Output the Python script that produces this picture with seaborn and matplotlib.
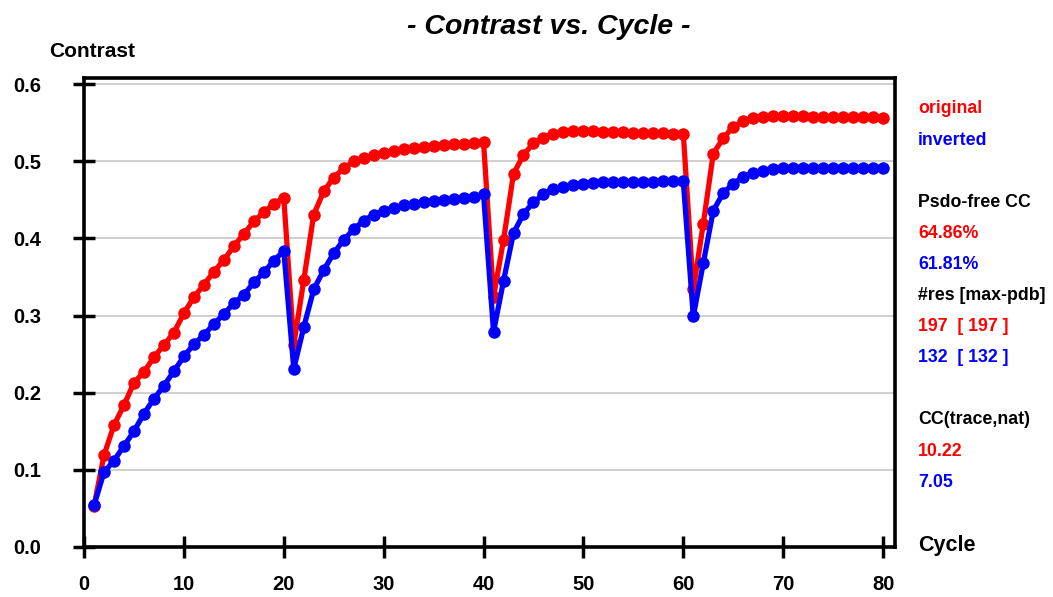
import numpy as np
import pandas as pd
import matplotlib
matplotlib.use("Agg")
import matplotlib.pyplot as plt
import seaborn as sns

cycles = list(range(1, 81))
original = [0.053, 0.119, 0.158, 0.184, 0.213, 0.227, 0.246, 0.262, 0.278, 0.303,
            0.324, 0.340, 0.357, 0.372, 0.390, 0.406, 0.422, 0.434, 0.445, 0.453,
            0.262, 0.346, 0.431, 0.461, 0.479, 0.491, 0.500, 0.504, 0.508, 0.511,
            0.513, 0.516, 0.517, 0.519, 0.520, 0.521, 0.522, 0.523, 0.524, 0.525,
            0.324, 0.398, 0.484, 0.508, 0.524, 0.530, 0.536, 0.538, 0.539, 0.539,
            0.539, 0.538, 0.538, 0.538, 0.537, 0.537, 0.537, 0.537, 0.536, 0.536,
            0.334, 0.419, 0.510, 0.530, 0.545, 0.552, 0.556, 0.558, 0.559, 0.559,
            0.559, 0.559, 0.558, 0.558, 0.558, 0.557, 0.557, 0.557, 0.557, 0.556]
inverted = [0.054, 0.097, 0.112, 0.131, 0.150, 0.173, 0.192, 0.209, 0.228, 0.247,
            0.263, 0.275, 0.289, 0.302, 0.316, 0.327, 0.343, 0.356, 0.371, 0.384,
            0.231, 0.285, 0.334, 0.359, 0.381, 0.398, 0.412, 0.423, 0.431, 0.436,
            0.439, 0.443, 0.445, 0.447, 0.448, 0.450, 0.451, 0.453, 0.454, 0.457,
            0.279, 0.345, 0.407, 0.432, 0.447, 0.457, 0.464, 0.467, 0.469, 0.470,
            0.472, 0.473, 0.473, 0.473, 0.473, 0.473, 0.473, 0.474, 0.474, 0.474,
            0.299, 0.368, 0.436, 0.459, 0.471, 0.480, 0.485, 0.488, 0.490, 0.491,
            0.491, 0.491, 0.491, 0.491, 0.491, 0.491, 0.491, 0.491, 0.491, 0.491]

x_ticks = [0, 10, 20, 30, 40, 50, 60, 70, 80]
y_ticks = [0.0, 0.1, 0.2, 0.3, 0.4, 0.5, 0.6]

side_labels = [("original", "red"), ("inverted", "blue"), ("", "k"),
               ("Psdo-free CC", "k"), ("64.86%", "red"), ("61.81%", "blue"),
               ("#res [max-pdb]", "k"), ("197  [ 197 ]", "red"), ("132  [ 132 ]", "blue"),
               ("", "k"), ("CC(trace,nat)", "k"), ("10.22", "red"), ("7.05", "blue")]

sns.set_style("white")
plt.rcParams['font.family'] = ['Liberation Sans', 'DejaVu Sans']
plt.rcParams['font.weight'] = 'bold'
plt.rcParams['text.color'] = 'black'

df = pd.DataFrame({
    "Cycle": cycles * 2,
    "Contrast": original + inverted,
    "series": ["original"] * len(cycles) + ["inverted"] * len(cycles),
})

fig = plt.figure(figsize=(10.53, 5.97), dpi=100)
ax = fig.add_axes([0.0798, 0.0838, 0.7702, 0.7855])

for name, col in [("original", "#ff0000"), ("inverted", "#0000ff")]:
    sub = df[df["series"] == name]
    sns.lineplot(data=sub, x="Cycle", y="Contrast", ax=ax, color=col,
                 linewidth=3.8, marker="o", markersize=9, markeredgewidth=0,
                 legend=False, zorder=3)

ax.set_xlim(0, 81.2)
ax.set_ylim(0, 0.608)
ax.set_xticks(x_ticks)
ax.set_xticklabels([str(v) for v in x_ticks])
ax.set_yticks(y_ticks)
ax.set_yticklabels([f"{v:.1f}" for v in y_ticks])
ax.yaxis.grid(True, color="#cccccc", linewidth=1.3, zorder=0)
ax.xaxis.grid(False)
ax.set_axisbelow(True)
for s in ax.spines.values():
    s.set_linewidth(2.6)
    s.set_color("black")
ax.tick_params(axis="both", which="major", bottom=True, left=True, top=False, right=False,
               direction="inout", length=16, width=2.5,
               labelsize=14.5, colors="black")
ax.tick_params(axis="x", pad=12.5)
ax.tick_params(axis="y", pad=23)
for lab in ax.get_xticklabels() + ax.get_yticklabels():
    lab.set_fontweight("bold")
ax.set_xlabel("")
ax.set_ylabel("")

fig.text(0.521, 0.955, "- Contrast vs. Cycle -", ha="center", va="center",
         fontsize=20.5, fontweight="bold", fontstyle="italic", color="black")
fig.text(0.047, 0.913, "Contrast", ha="left", va="center", fontsize=15,
         fontweight="bold", color="black")
fig.text(0.872, 0.087, "Cycle", ha="left", va="center", fontsize=15.5,
         fontweight="bold", color="black")

y0 = 109
step = 31.1
for i, (t, c) in enumerate(side_labels):
    if not t:
        continue
    fig.text(0.872, 1 - (y0 + i * step) / 597, t, ha="left", va="center",
             fontsize=12.8, fontweight="bold", color=c)

fig.savefig("out.png", dpi=100)
